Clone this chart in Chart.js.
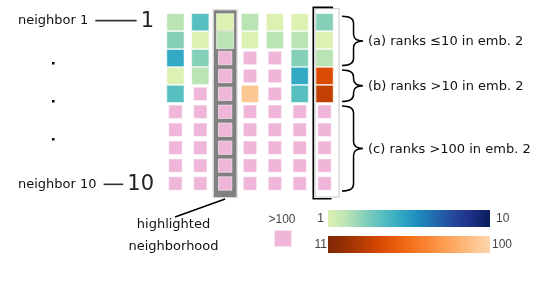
<!DOCTYPE html>
<html><head><meta charset="utf-8">
<script src="https://cdn.jsdelivr.net/npm/chart.js@4"></script>
<style>html,body{margin:0;padding:0;background:#fff}canvas{display:block}</style>
</head><body>
<canvas id="c" width="538" height="288"></canvas>
<script>
// ---- data ----
const OVER = ">100";
const neighborRows = [1,2,3,4,5,6,7,8,9,10];
const columnIds = [1,2,3,4,5,6,7];
const col1Ranks = [2,3,5,1,4,OVER,OVER,OVER,OVER,OVER];
const col2Ranks = [4,1,3,2,OVER,OVER,OVER,OVER,OVER,OVER];
const col3Ranks = [1,2,OVER,OVER,OVER,OVER,OVER,OVER,OVER,OVER];
const col4Ranks = [2,1,OVER,OVER,93,OVER,OVER,OVER,OVER,OVER];
const col5Ranks = [1,2,OVER,OVER,OVER,OVER,OVER,OVER,OVER,OVER];
const col6Ranks = [1,2,3,5,4,OVER,OVER,OVER,OVER,OVER];
const col7Ranks = [3,1,2,41,33,OVER,OVER,OVER,OVER,OVER];
const columnRanks = [col1Ranks,col2Ranks,col3Ranks,col4Ranks,col5Ranks,col6Ranks,col7Ranks];
const highlightedColumn = 3;
const comparedColumn = 7;
const groupLabels = ["(a) ranks \u226410 in emb. 2","(b) ranks >10 in emb. 2","(c) ranks >100 in emb. 2"];
const groupStartRow = [1,4,6];
const groupEndRow = [3,5,10];
const rowLabels = ["neighbor 1","neighbor 10"];
const rowLabelRows = [1,10];
const rowLabelNums = ["1","10"];
const legendOverLabel = ">100";
const legendBlueEnds = ["1","10"];
const legendOrangeEnds = ["11","100"];

// ---- colour maps ----
const ylgnbu = [[255,255,217],[237,248,177],[199,233,180],[127,205,187],[65,182,196],[29,145,192],[34,94,168],[37,52,148],[8,29,88]];
const oranges = [[255,245,235],[254,230,206],[253,208,162],[253,174,107],[253,141,60],[241,105,19],[217,72,1],[166,54,3],[127,39,4]];
const PINK = '#f0b6da';
function cmap(stops,t){
  const s=Math.max(0,Math.min(1,t))*(stops.length-1);
  const i=Math.min(Math.floor(s),stops.length-2), f=s-i;
  const c=stops[i].map((v,k)=>Math.round(v+(stops[i+1][k]-v)*f));
  return `rgb(${c[0]},${c[1]},${c[2]})`;
}
function rankColor(r){
  if (r===OVER) return PINK;
  if (r<=10) return cmap(ylgnbu, 0.18+(r-1)/9*0.82);
  return cmap(oranges, 1-(r-11)/89*0.78);
}

const points=[];
columnIds.forEach((c,ci)=>neighborRows.forEach((n,ri)=>points.push({x:c,y:n,rank:columnRanks[ci][ri]})));

const FONT='"DejaVu Sans", sans-serif';
function brace(ctx,x0,y0,y1,w){
  const ym=(y0+y1)/2, xm=x0+w*0.55, q=Math.min(7,(y1-y0)/4);
  ctx.beginPath();
  ctx.moveTo(x0,y0);
  ctx.quadraticCurveTo(xm,y0,xm,y0+q);
  ctx.lineTo(xm,ym-q);
  ctx.quadraticCurveTo(xm,ym,x0+w,ym);
  ctx.quadraticCurveTo(xm,ym,xm,ym+q);
  ctx.lineTo(xm,y1-q);
  ctx.quadraticCurveTo(xm,y1,x0,y1);
  ctx.stroke();
}

const decor={
  id:'decor',
  beforeDatasetsDraw(chart){
    const {ctx,scales:{x,y}}=chart;
    const cx=x.getPixelForValue(highlightedColumn);
    const top=y.getPixelForValue(0.5)-3, bot=y.getPixelForValue(10.5)+4.5;
    ctx.save();
    ctx.fillStyle='#808080'; ctx.fillRect(cx-11.5,top,23,bot-top);
    ctx.strokeStyle='#d6d6d6'; ctx.lineWidth=1; ctx.strokeRect(cx-12,top-0.5,24,bot-top+1);
    ctx.restore();
  },
  afterDatasetsDraw(chart){
    const {ctx,scales:{x,y}}=chart;
    const cx=x.getPixelForValue(comparedColumn);
    const top=y.getPixelForValue(0.5), bot=y.getPixelForValue(10.5);
    ctx.save();
    ctx.strokeStyle='#c8c8c8'; ctx.lineWidth=1;
    ctx.strokeRect(cx-9.5,top-4.5,24,bot-top+9);
    ctx.strokeStyle='#000'; ctx.lineWidth=1.6;
    ctx.beginPath();
    ctx.moveTo(cx+8.5,top-5.8); ctx.lineTo(cx-11.3,top-5.8); ctx.lineTo(cx-11.3,bot+6.3); ctx.lineTo(cx+7,bot+6.3);
    ctx.stroke();
    ctx.restore();
  },
  afterDraw(chart){
    const {ctx,scales:{x,y}}=chart;
    ctx.save();
    // left row labels
    ctx.textBaseline='middle';
    rowLabels.forEach((lab,i)=>{
      const py=y.getPixelForValue(rowLabelRows[i]) + (i===0?-1.5:0.8);
      ctx.fillStyle='#111';
      ctx.font='13px '+FONT; ctx.textAlign='left';
      ctx.fillText(lab,18,py);
      const w=ctx.measureText(lab).width;
      ctx.font='21px '+FONT; ctx.textAlign='right';
      ctx.fillStyle='#222';
      ctx.fillText(rowLabelNums[i],154,py+0.5);
      const nw=ctx.measureText(rowLabelNums[i]).width;
      ctx.strokeStyle='#333'; ctx.lineWidth=1.6;
      ctx.beginPath(); ctx.moveTo(18+w+7,py); ctx.lineTo(154-nw-4,py); ctx.stroke();
    });
    // ellipsis dots
    [3.3,5.4,7.5].forEach(r=>{ctx.fillStyle='#000'; ctx.fillRect(52,Math.round(y.getPixelForValue(r))-1,2.5,2.5);});
    // braces
    ctx.strokeStyle='#000'; ctx.lineWidth=1.5;
    groupLabels.forEach((lab,i)=>{
      const y0=y.getPixelForValue(groupStartRow[i]-0.33), y1=y.getPixelForValue(groupEndRow[i]+0.42);
      brace(ctx,342,y0,y1,21);
      ctx.fillStyle='#111'; ctx.font='13px '+FONT; ctx.textAlign='left'; ctx.textBaseline='middle';
      ctx.fillText(lab,368,(y0+y1)/2+1);
    });
    // highlighted neighborhood
    ctx.strokeStyle='#000'; ctx.lineWidth=1.5;
    ctx.beginPath(); ctx.moveTo(175,217); ctx.lineTo(x.getPixelForValue(highlightedColumn),199); ctx.stroke();
    ctx.fillStyle='#111'; ctx.font='13px '+FONT; ctx.textAlign='center'; ctx.textBaseline='middle';
    ctx.fillText('highlighted',173.5,225); ctx.fillText('neighborhood',173.5,247);
    // legend
    ctx.font='12px "Liberation Sans", Arial, sans-serif'; ctx.fillStyle='#444';
    ctx.textAlign='center'; ctx.fillText(legendOverLabel,282,220);
    ctx.fillStyle=PINK; ctx.fillRect(274,230,18,17);
    ctx.strokeStyle='rgba(255,255,255,0.6)'; ctx.lineWidth=1; ctx.strokeRect(274.5,230.5,17,16);
    const g1=ctx.createLinearGradient(328,0,490,0);
    for(let r=1;r<=10;r++) g1.addColorStop((r-1)/9,rankColor(r));
    ctx.fillStyle=g1; ctx.fillRect(328,210,162,17);
    const g2=ctx.createLinearGradient(328,0,490,0);
    for(let r=11;r<=100;r+=9) g2.addColorStop((r-11)/89,rankColor(r));
    g2.addColorStop(1,rankColor(100));
    ctx.fillStyle=g2; ctx.fillRect(328,236,162,17);
    ctx.fillStyle='#444';
    ctx.textAlign='right'; ctx.fillText(legendBlueEnds[0],324,219); ctx.fillText(legendOrangeEnds[0],327,245);
    ctx.textAlign='left'; ctx.fillText(legendBlueEnds[1],496,219); ctx.fillText(legendOrangeEnds[1],492,245);
    ctx.restore();
  }
};

new Chart(document.getElementById('c'),{
  type:'scatter',
  data:{datasets:[{
    data:points,
    pointStyle:'rect',
    pointRadius:c=>c.raw && c.raw.rank===OVER?9.5:12.2,
    pointHoverRadius:c=>c.raw && c.raw.rank===OVER?9.5:12.2,
    backgroundColor:c=>c.raw?rankColor(c.raw.rank):PINK,
    borderColor:'rgba(255,255,255,0.55)',
    borderWidth:1
  }]},
  options:{
    responsive:false, animation:false, devicePixelRatio:1,
    layout:{padding:{left:163,right:201,top:10,bottom:95.5}},
    scales:{
      x:{type:'linear',min:0.5,max:7.5,display:false},
      y:{type:'linear',min:0.5,max:10.5,reverse:true,display:false}
    },
    plugins:{legend:{display:false},tooltip:{enabled:false}},
    events:[]
  },
  plugins:[decor]
});
</script>
</body></html>
